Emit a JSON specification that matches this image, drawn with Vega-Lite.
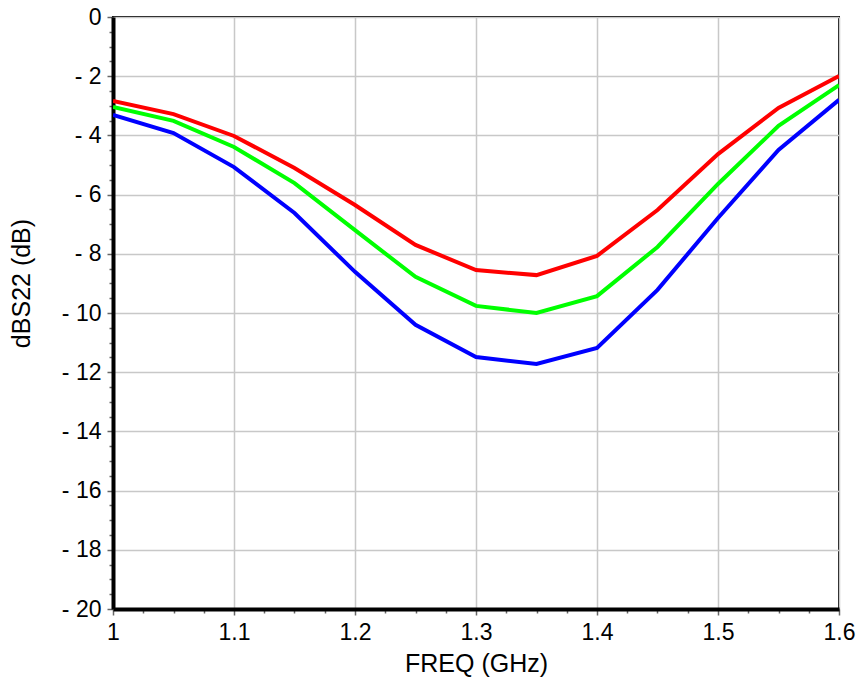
{
  "$schema": "https://vega.github.io/schema/vega-lite/v6.json",
  "autosize": "none",
  "width": 726,
  "height": 592,
  "padding": {"left": 113, "top": 17, "right": 22, "bottom": 75},
  "background": "white",
  "config": {
    "view": {"stroke": "black", "strokeWidth": 2},
    "font": "Liberation Sans"
  },
  "data": {
    "values": [
      {"f": 1.0, "v": -2.84, "s": "red"}, {"f": 1.05, "v": -3.28, "s": "red"}, {"f": 1.1, "v": -4.02, "s": "red"},
      {"f": 1.15, "v": -5.1, "s": "red"}, {"f": 1.2, "v": -6.35, "s": "red"}, {"f": 1.25, "v": -7.7, "s": "red"},
      {"f": 1.3, "v": -8.55, "s": "red"}, {"f": 1.35, "v": -8.72, "s": "red"}, {"f": 1.4, "v": -8.07, "s": "red"},
      {"f": 1.45, "v": -6.52, "s": "red"}, {"f": 1.5, "v": -4.63, "s": "red"}, {"f": 1.55, "v": -3.07, "s": "red"},
      {"f": 1.6, "v": -1.99, "s": "red"},
      {"f": 1.0, "v": -3.04, "s": "green"}, {"f": 1.05, "v": -3.51, "s": "green"}, {"f": 1.1, "v": -4.39, "s": "green"},
      {"f": 1.15, "v": -5.61, "s": "green"}, {"f": 1.2, "v": -7.2, "s": "green"}, {"f": 1.25, "v": -8.78, "s": "green"},
      {"f": 1.3, "v": -9.76, "s": "green"}, {"f": 1.35, "v": -10.0, "s": "green"}, {"f": 1.4, "v": -9.43, "s": "green"},
      {"f": 1.45, "v": -7.77, "s": "green"}, {"f": 1.5, "v": -5.64, "s": "green"}, {"f": 1.55, "v": -3.68, "s": "green"},
      {"f": 1.6, "v": -2.3, "s": "green"},
      {"f": 1.0, "v": -3.31, "s": "blue"}, {"f": 1.05, "v": -3.92, "s": "blue"}, {"f": 1.1, "v": -5.07, "s": "blue"},
      {"f": 1.15, "v": -6.62, "s": "blue"}, {"f": 1.2, "v": -8.61, "s": "blue"}, {"f": 1.25, "v": -10.4, "s": "blue"},
      {"f": 1.3, "v": -11.49, "s": "blue"}, {"f": 1.35, "v": -11.72, "s": "blue"}, {"f": 1.4, "v": -11.18, "s": "blue"},
      {"f": 1.45, "v": -9.22, "s": "blue"}, {"f": 1.5, "v": -6.79, "s": "blue"}, {"f": 1.55, "v": -4.49, "s": "blue"},
      {"f": 1.6, "v": -2.8, "s": "blue"}
    ]
  },
  "mark": {"type": "line", "strokeWidth": 4, "clip": true},
  "encoding": {
    "x": {
      "field": "f",
      "type": "quantitative",
      "scale": {"domain": [1, 1.6], "nice": false, "zero": false},
      "axis": {
        "title": "FREQ (GHz)",
        "titleFont": "Liberation Sans",
        "titleFontSize": 25,
        "titleFontWeight": "normal",
        "titleColor": "black",
        "titleBaseline": "middle",
        "titleY": 54,
        "values": [1, 1.025, 1.05, 1.075, 1.1, 1.125, 1.15, 1.175, 1.2, 1.225, 1.25, 1.275, 1.3, 1.325, 1.35, 1.375, 1.4, 1.425, 1.45, 1.475, 1.5, 1.525, 1.55, 1.575, 1.6],
        "labelExpr": "abs(datum.value*10 - round(datum.value*10)) < 0.000001 ? toString(round(datum.value*10)/10) : ''",
        "labelFont": "Liberation Sans",
        "labelFontSize": 23,
        "labelColor": "black",
        "labelPadding": 6,
        "labelOverlap": false,
        "labelBound": false,
        "labelFlush": false,
        "domainColor": "black",
        "domainWidth": 4,
        "tickColor": "#666666",
        "tickWidth": 1.5,
        "tickSize": {"condition": {"test": "abs(datum.value*10 - round(datum.value*10)) < 0.000001", "value": 6}, "value": 4},
        "grid": true,
        "gridColor": "#c8c8c8",
        "gridWidth": 1.5,
        "gridOpacity": {"condition": {"test": "abs(datum.value*10 - round(datum.value*10)) < 0.000001", "value": 1}, "value": 0}
      }
    },
    "y": {
      "field": "v",
      "type": "quantitative",
      "scale": {"domain": [-20, 0], "nice": false},
      "axis": {
        "title": "dBS22 (dB)",
        "titleFont": "Liberation Sans",
        "titleFontSize": 25,
        "titleFontWeight": "normal",
        "titleColor": "black",
        "titleBaseline": "middle",
        "titleAlign": "center",
        "titleAngle": -90,
        "titleX": -92,
        "titleY": 266,
        "values": [-20, -19.5, -19, -18.5, -18, -17.5, -17, -16.5, -16, -15.5, -15, -14.5, -14, -13.5, -13, -12.5, -12, -11.5, -11, -10.5, -10, -9.5, -9, -8.5, -8, -7.5, -7, -6.5, -6, -5.5, -5, -4.5, -4, -3.5, -3, -2.5, -2, -1.5, -1, -0.5, 0],
        "labelExpr": "datum.value % 2 === 0 ? (datum.value < 0 ? '- ' + toString(-datum.value) : '0') : ''",
        "labelFont": "Liberation Sans",
        "labelFontSize": 23,
        "labelColor": "black",
        "labelPadding": 6,
        "labelOverlap": false,
        "labelBound": false,
        "labelFlush": false,
        "domainColor": "black",
        "domainWidth": 4,
        "tickColor": "#666666",
        "tickWidth": 1.5,
        "tickSize": {"condition": {"test": "datum.value % 2 === 0", "value": 6}, "value": 4},
        "grid": true,
        "gridColor": "#c8c8c8",
        "gridWidth": 1.5,
        "gridOpacity": {"condition": {"test": "datum.value % 2 === 0", "value": 1}, "value": 0}
      }
    },
    "color": {
      "field": "s",
      "type": "nominal",
      "scale": {"domain": ["red", "green", "blue"], "range": ["#ff0000", "#00ff00", "#0000ff"]},
      "legend": null
    }
  }
}
